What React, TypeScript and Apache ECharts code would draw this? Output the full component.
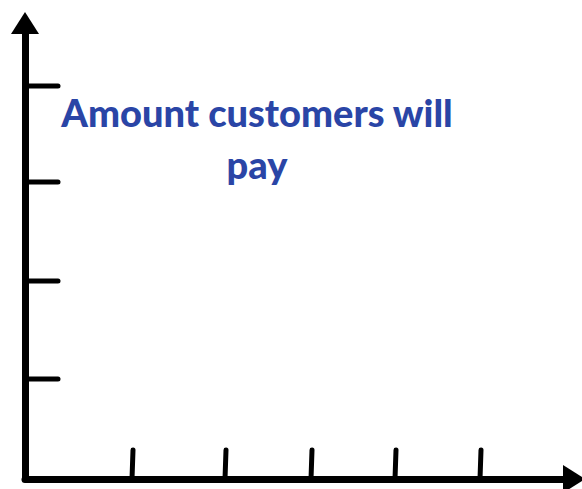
import React, { useEffect, useRef } from "react";
import * as echarts from "echarts";

// Axis extents (in chart units, measured from the axis origin)
const xMax = 549;
const yMax = 456;
// Tick positions
const xTicks = [107, 200, 286, 370, 455];
const yTicks = [100, 198, 297, 393];
const titleLines = ["Amount customers will", "pay"];

export default function App() {
  const ref = useRef<HTMLDivElement>(null);
  useEffect(() => {
    document.body.style.margin = "0";
    const chart = echarts.init(ref.current!, undefined, { renderer: "svg" });
    const axisStyle = { color: "#000", width: 7, cap: "round" as const, join: "round" as const };
    chart.setOption({
      animation: false,
      backgroundColor: "#ffffff",
      grid: { left: 25, right: 8, top: 23, bottom: 10, containLabel: false },
      xAxis: {
        type: "value",
        min: 0,
        max: xMax,
        axisLine: { show: true, onZero: false, symbol: ["none", "triangle"], symbolSize: [28, 22], lineStyle: axisStyle },
        axisTick: { show: false },
        axisLabel: { show: false },
        splitLine: { show: false },
      },
      yAxis: {
        type: "value",
        min: 0,
        max: yMax,
        axisLine: { show: true, onZero: false, symbol: ["none", "triangle"], symbolSize: [28, 22], lineStyle: axisStyle },
        axisTick: { show: false },
        axisLabel: { show: false },
        splitLine: { show: false },
      },
      graphic: [
        {
          type: "text",
          x: 257,
          y: 86,
          style: {
            text: titleLines.join("\n"),
            font: "900 38px Lato",
            fill: "#2a45a6",
            textAlign: "center",
            lineHeight: 52,
          },
        },
      ],
      series: [
        {
          type: "custom",
          data: xTicks.map((v) => [v]),
          encode: { x: 0 },
          renderItem: (params: any, api: any) => {
            const p = api.coord([api.value(0), 0]);
            return {
              type: "line",
              shape: { x1: p[0], y1: p[1], x2: p[0] + 1, y2: p[1] - 29 },
              style: { stroke: "#000", lineWidth: 5, lineCap: "round" },
            };
          },
        },
        {
          type: "custom",
          data: yTicks.map((v) => [0, v]),
          encode: { x: 0, y: 1 },
          renderItem: (params: any, api: any) => {
            const p = api.coord([0, api.value(1)]);
            return {
              type: "line",
              shape: { x1: p[0], y1: p[1], x2: p[0] + 33, y2: p[1] },
              style: { stroke: "#000", lineWidth: 5, lineCap: "round" },
            };
          },
        },
      ],
    });
    return () => chart.dispose();
  }, []);
  return <div ref={ref} style={{ position: "absolute", left: 0, top: 0, width: 582, height: 489 }} />;
}
